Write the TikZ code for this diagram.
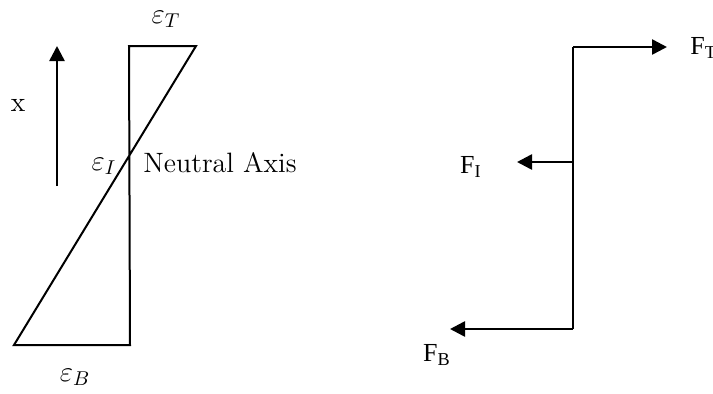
\documentclass[tikz,border=0pt]{standalone}
\usepackage{fontspec}
\usepackage{amsmath}
\usetikzlibrary{arrows.meta, positioning}
\newfontfamily\forcefont{Liberation Serif}

\begin{document}
\begin{tikzpicture}[
    x=0.5pt, y=-0.5pt,
    strain/.style={draw=black, line width=1pt, line join=miter},
    force/.style={-{Triangle[length=7.5pt, width=7.5pt]}, line width=1.3pt},
    lbl/.style={inner sep=0pt, font=\fontsize{14}{16}\selectfont},
    flbl/.style={inner sep=0pt, font=\forcefont\fontsize{13}{15}\selectfont}
]
    \useasboundingbox (0,0) rectangle (713,393);

    % Strain profile
    \coordinate (tl) at (129,46);
    \coordinate (tr) at (196,46);
    \coordinate (bl) at (14,345);
    \coordinate (br) at (130,345);
    \draw[strain] (tl) -- (tr) -- (bl) -- (br) -- cycle;

    % Height direction
    \coordinate (xbot) at (57,186);
    \coordinate (xtop) at (57,46);
    \draw[force] (xbot) -- (xtop);
    \node[lbl] (xl) at (18,105) {x};

    % Strain labels
    \node[lbl] (epsT) at (166,19) {$\varepsilon_T$};
    \node[lbl] (epsI) at (104,166) {$\varepsilon_I$};
    \node[lbl, anchor=west] (na) at (143,163) {Neutral Axis};
    \node[lbl] (epsB) at (75,377) {$\varepsilon_B$};

    % Force resultants
    \coordinate (ftop) at (573,47);
    \coordinate (fmid) at (573,162);
    \coordinate (fbot) at (573,329);
    \draw[line width=1.3pt] (ftop) -- (fbot);
    \coordinate (tipT) at (667,47);
    \coordinate (tipI) at (517,162);
    \coordinate (tipB) at (450,329);
    \draw[force] (ftop) -- (tipT);
    \draw[force] (fmid) -- (tipI);
    \draw[force] (fbot) -- (tipB);

    % Force labels
    \node[flbl, anchor=west] (FT) at (690,48) {F\textsubscript{T}};
    \node[flbl] (FI) at (471,167) {F\textsubscript{I}};
    \node[flbl] (FB) at (437,355) {F\textsubscript{B}};
\end{tikzpicture}
\end{document}
